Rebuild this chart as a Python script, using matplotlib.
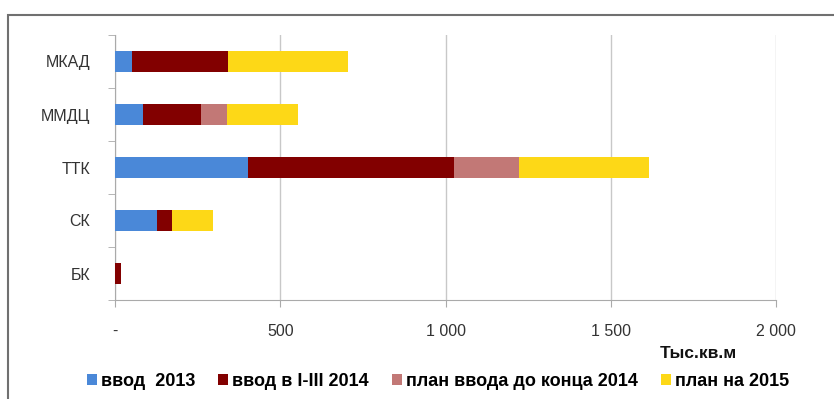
import numpy as np
import matplotlib
matplotlib.use('Agg')
from matplotlib import pyplot as plt
from matplotlib.patches import Rectangle

plt.rcParams['font.family'] = ['Liberation Sans', 'DejaVu Sans']

categories = ['МКАД', 'ММДЦ', 'ТТК', 'СК', 'БК']
vvod_2013 = [51, 85, 403, 127, 0]
vvod_2014 = [291, 175, 624, 45, 18]
plan_2014 = [0, 78, 194, 0, 0]
plan_2015 = [362, 216, 394, 125, 0]
series_names = ['ввод  2013', 'ввод в I-III 2014', 'план ввода до конца 2014', 'план на 2015']
colors = ['#4a88d8', '#820000', '#c27876', '#fdd817']
xticks = [0, 500, 1000, 1500, 2000]
xticklabels = ['-', '500', '1 000', '1 500', '2 000']

fig = plt.figure(figsize=(8.34, 3.99), dpi=100)
ax = fig.add_axes([115/834, 1-300/399, (776-115)/834, (300-35)/399])

y = np.arange(len(categories))
left = np.zeros(len(categories))
for vals, name, c in zip([vvod_2013, vvod_2014, plan_2014, plan_2015], series_names, colors):
    ax.barh(y, vals, left=left, height=0.38, color=c, label=name, zorder=3)
    left += np.array(vals)

ax.set_ylim(len(categories)-0.5, -0.5)
ax.set_xlim(0, 2000)
ax.set_yticks(y)
ax.set_yticklabels(categories, fontsize=11.5, color='#333333')
ax.set_yticks(np.arange(-0.5, len(categories)), minor=True)
ax.tick_params(axis='y', which='major', length=0, pad=18)
ax.tick_params(axis='y', which='minor', length=5, color='#aaaaaa')
ax.set_xticks(xticks)
ax.set_xticklabels(xticklabels, fontsize=11.5, color='#333333')
ax.tick_params(axis='x', length=5, color='#aaaaaa', pad=12)
ax.grid(axis='x', color='#c8c8c8', linewidth=1, zorder=0)
for s in ['top', 'right']:
    ax.spines[s].set_visible(False)
for s in ['left', 'bottom']:
    ax.spines[s].set_color('#aaaaaa')

fig.text(660/834, 1-353/399, 'Тыс.кв.м', fontsize=12.5, fontweight='bold', va='center', color='#111111')

fig.legend(loc='center', bbox_to_anchor=(0.525, 1-381/399), ncol=4, frameon=False,
           prop={'size': 13, 'weight': 'bold'}, handlelength=0.55, handleheight=0.55,
           handletextpad=0.2, columnspacing=1.3, borderaxespad=0)

fig.patches.append(Rectangle((8/834, -0.1), 1.2, 1-15/399+0.1, transform=fig.transFigure,
                             fill=False, edgecolor='#707070', linewidth=1.5))

fig.savefig('out.png', dpi=100)
